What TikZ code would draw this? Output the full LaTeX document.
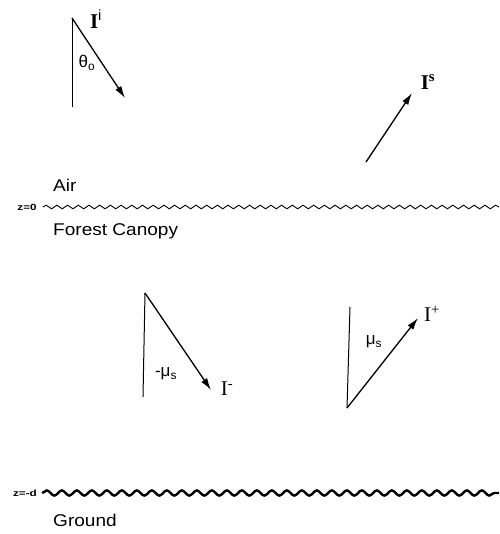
\documentclass[tikz,border=0pt]{standalone}
\usepackage{fontspec}
\setmainfont{Liberation Sans}
\newfontfamily\timesfont{Liberation Serif}
\usepackage{tikz}
\usetikzlibrary{arrows.meta, decorations.pathmorphing, positioning}

\begin{document}
\begin{tikzpicture}[
    x=1pt, y=-1pt,
    ray/.style={draw, -{Latex[length=12pt,width=7pt]}, line width=1.3pt},
    normal/.style={draw, line width=1pt},
    layer/.style={font=\fontsize{17}{19}\selectfont, xscale=1.12, transform shape, anchor=west, inner sep=0pt},
    zlbl/.style={font=\bfseries\fontsize{9}{10}\selectfont, xscale=1.3, transform shape, inner sep=0pt},
    intens/.style={font=\timesfont\bfseries\fontsize{21}{23}\selectfont, inner sep=0pt},
    angle/.style={font=\fontsize{17}{19}\selectfont, inner sep=0pt},
    thinwave/.style={draw, line width=0.9pt, decorate, decoration={snake, amplitude=1.8pt, segment length=10.7pt}},
    thickwave/.style={draw, line width=2.4pt, decorate, decoration={snake, amplitude=2.6pt, segment length=15pt}}
]
    \useasboundingbox (0,0) rectangle (499,534);

    % interfaces
    \node [zlbl] (ztop) at (27,207) {z=0};
    \node [zlbl] (zbot) at (25,493) {z=-d};
    \coordinate (topright) at (499,207);
    \coordinate (botright) at (499,493);
    \path [thinwave] (ztop.east) ++(6,0) -- (topright);
    \path [thickwave] (zbot.east) ++(5,0) -- (botright);

    \node [layer] (air) at (53,185) {Air};
    \node [layer] (canopy) at (53,231) {Forest Canopy};
    \node [layer] (ground) at (53,520) {Ground};

    % incident
    \coordinate (inc) at (72,18);
    \coordinate (incbase) at (72,107);
    \coordinate (inctip) at (125,98);
    \path [normal] (inc) -- (incbase);
    \path [ray] (inc) -- (inctip);
    \node [intens] (Ii) at (96,19) {I\textsuperscript{\normalfont i}};
    \node [angle] (theta) at (87,63) {θ\textsubscript{o}};

    % scattered
    \coordinate (scat) at (366,162);
    \coordinate (scattip) at (412,93);
    \path [ray] (scat) -- (scattip);
    \node [intens] (Is) at (428,82) {I\textsuperscript{s}};

    % downward
    \coordinate (down) at (145,293);
    \coordinate (downbase) at (143,397);
    \coordinate (downtip) at (211,390);
    \path [normal] (down) -- (downbase);
    \path [ray] (down) -- (downtip);
    \node [intens, font=\timesfont\fontsize{21}{23}\selectfont] (Im) at (227,389) {I\textsuperscript{-}};
    \node [angle] (mum) at (166,374) {-μ\textsubscript{s}};

    % upward
    \coordinate (up) at (347,408);
    \coordinate (upbase) at (350,307);
    \coordinate (uptip) at (418,318);
    \path [normal] (up) -- (upbase);
    \path [ray] (up) -- (uptip);
    \node [intens, font=\timesfont\fontsize{21}{23}\selectfont] (Ip) at (432,314) {I\textsuperscript{+}};
    \node [angle] (mup) at (374,342) {μ\textsubscript{s}};
\end{tikzpicture}
\end{document}
